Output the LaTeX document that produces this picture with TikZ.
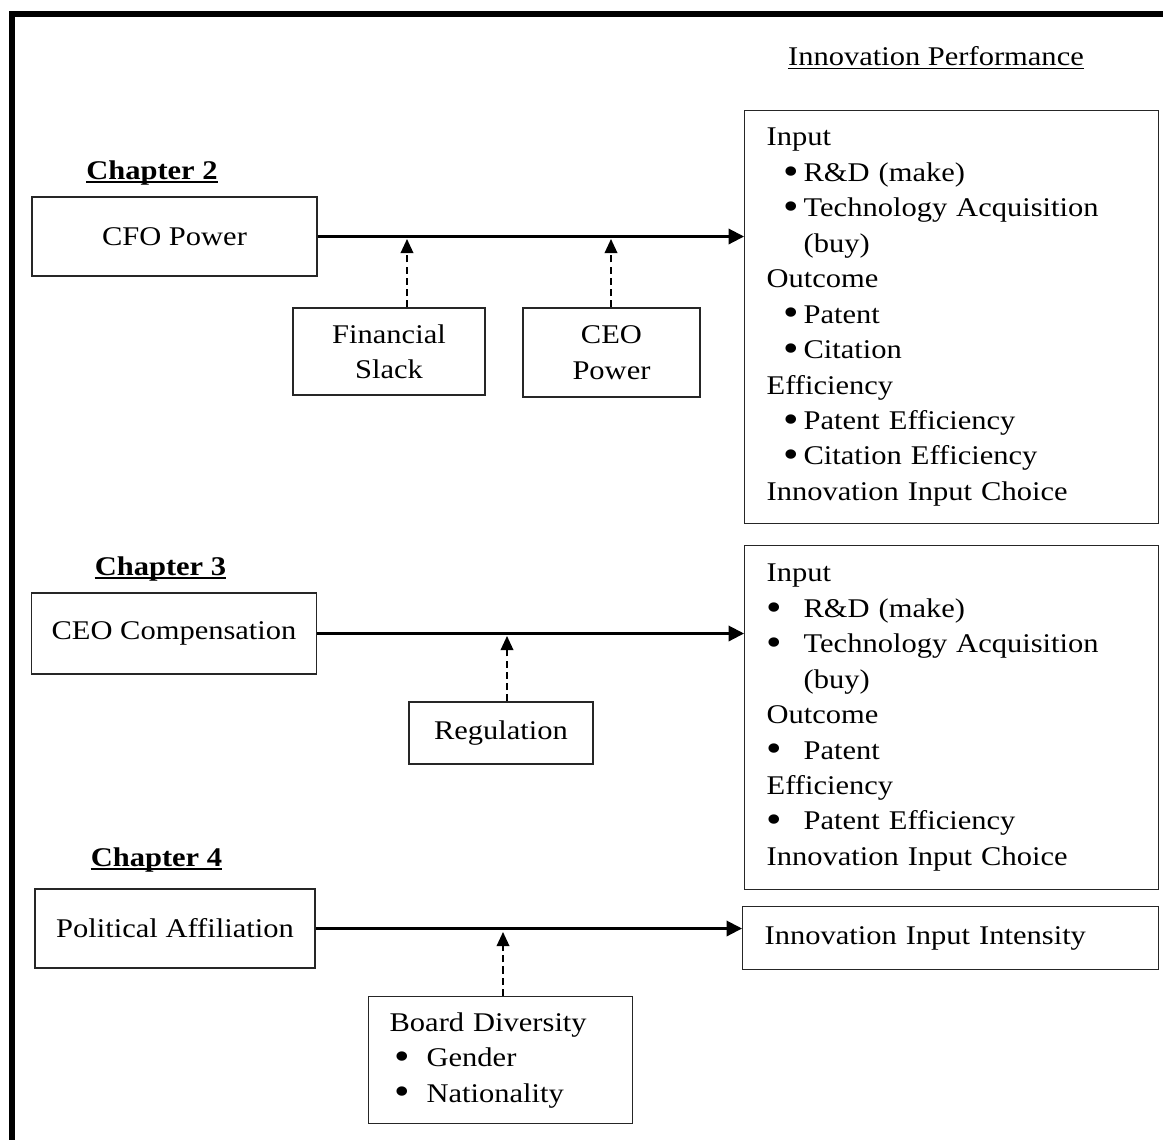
\documentclass[tikz,border=0pt]{standalone}
\usepackage{fontspec}
\usepackage{graphicx}
\setmainfont{Liberation Serif}[FakeStretch=1.13]
\usetikzlibrary{arrows.meta, positioning}

\tikzset{
  base/.style    = {draw=black!85, line width=0.9pt, font=\fontsize{19.2}{25.2}\selectfont},
  var/.style     = {base, align=center, inner sep=0pt},
  listbox/.style = {base, anchor=north west, align=left, inner xsep=0.55cm, inner ysep=0pt},
  chap/.style    = {font=\fontsize{19.2}{25.2}\selectfont\bfseries, anchor=base, inner sep=0pt},
  ttl/.style     = {font=\fontsize{19.2}{25.2}\selectfont, anchor=base, inner sep=0pt},
  arr/.style     = {-{Triangle[length=11pt, width=11pt]}, line width=1.5pt},
  modarr/.style  = {-{Triangle[length=10pt, width=9pt]}, line width=1.1pt, dash pattern=on 5pt off 3pt},
  frame/.style   = {line width=4.3pt},
}
\newcommand{\bigdot}{\raisebox{-2pt}{\scalebox{1.45}{\textbullet}}}
\newcommand{\bulA}{\hspace*{11.8pt}\makebox[14.5pt][l]{\bigdot}}
\newcommand{\bulB}{\makebox[26.3pt][l]{\bigdot}}
\newcommand{\bulC}{\hspace*{3.2pt}\makebox[23.1pt][l]{\bigdot}}
\newcommand{\hang}{\hspace*{26.3pt}}

\begin{document}
\begin{tikzpicture}[x=0.025cm, y=-0.025cm]
  \useasboundingbox (0,0) rectangle (1163,1139);
  \draw[frame] (1180,14) -- (12,14) -- (12,1160);

  % headings
  \node[ttl]  (perfttl) at (936,65)  {Innovation Performance};
  \node[chap] (ch2)     at (152,179) {Chapter 2};
  \node[chap] (ch3)     at (160.5,575) {Chapter 3};
  \node[chap] (ch4)     at (156.5,866) {Chapter 4};
  \draw[line width=1pt] ([yshift=-2.6pt]perfttl.base west) -- ([yshift=-2.6pt]perfttl.base east);
  \foreach \c in {ch2,ch3,ch4}
    \draw[line width=1.4pt] ([yshift=-2.4pt]\c.base west) -- ([yshift=-2.4pt]\c.base east);

  % chapter 2
  \node[var, minimum width=7.125cm, minimum height=1.975cm] (cfo) at (174.5,236.5) {CFO Power};
  \node[var, minimum width=4.8cm, minimum height=2.175cm] (fin) at (389,351.5) {Financial\\Slack};
  \node[var, minimum width=4.425cm, minimum height=2.225cm] (ceopow) at (611.5,352.5) {CEO\\Power};
  \node[listbox, minimum width=10.35cm, minimum height=10.325cm, text width=9.25cm] (perf1) at (744,110)
       {Input\\ \bulA R\&D (make)\\ \bulA Technology Acquisition\\ \hang(buy)\\
        Outcome\\ \bulA Patent\\ \bulA Citation\\
        Efficiency\\ \bulA Patent Efficiency\\ \bulA Citation Efficiency\\
        Innovation Input Choice};

  % chapter 3
  \node[var, minimum width=7.14cm, minimum height=2.025cm] (ceocomp) at (174,633.5) {CEO Compensation};
  \node[var, minimum width=4.6cm, minimum height=1.55cm] (regul) at (501,733) {Regulation};
  \node[listbox, minimum width=10.35cm, minimum height=8.6cm, text width=9.25cm] (perf2) at (744,545)
       {Input\\ \bulB R\&D (make)\\ \bulB Technology Acquisition\\ \hang(buy)\\
        Outcome\\ \bulB Patent\\ Efficiency\\ \bulB Patent Efficiency\\
        Innovation Input Choice};

  % chapter 4
  \node[var, minimum width=7.0cm, minimum height=1.975cm] (polaff) at (175,928.5) {Political Affiliation};
  \node[listbox, minimum width=6.6cm, minimum height=3.175cm, inner xsep=0.5375cm, text width=5.525cm] (board) at (367.5,996)
       {Board Diversity\\ \bulC Gender\\ \bulC Nationality};
  \node[listbox, minimum width=10.4cm, minimum height=1.575cm, text width=9.3cm] (intens) at (742,906)
       {Innovation Input Intensity};

  % main paths
  \draw[arr] (cfo.east) -- (cfo.east -| perf1.west);
  \draw[arr] (ceocomp.east) -- (ceocomp.east -| perf2.west);
  \draw[arr] (polaff.east) -- (polaff.east -| intens.west);

  % moderators
  \coordinate (m1) at (407,239);
  \coordinate (m2) at (611,239);
  \coordinate (m3) at (507,636);
  \coordinate (m4) at (503,932);
  \draw[modarr] (m1 |- fin.north) -- (m1);
  \draw[modarr] (m2 |- ceopow.north) -- (m2);
  \draw[modarr] (m3 |- regul.north) -- (m3);
  \draw[modarr] (m4 |- board.north) -- (m4);
\end{tikzpicture}
\end{document}
